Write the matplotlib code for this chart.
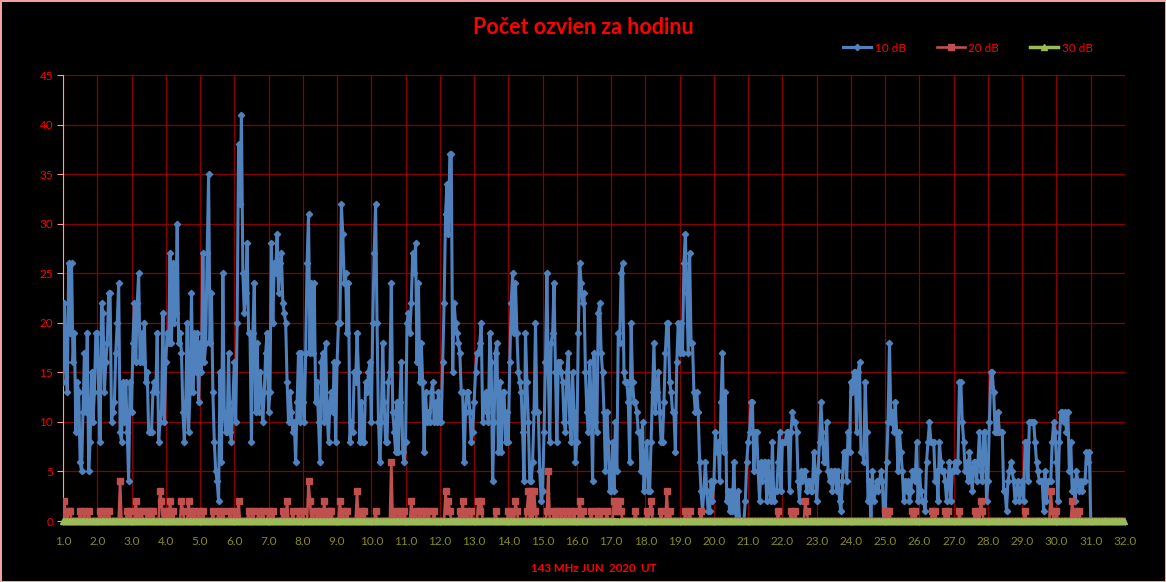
import matplotlib
matplotlib.use('Agg')
import matplotlib.pyplot as plt
import numpy as np

# hourly echo counts, one row of 24 hours per day of June 2020
db10 = [
    [14,22,16,13,26,19,26,16,19,9,14,13,6,5,11,17,11,19,5,8,15,10,13,19],
    [19,13,8,22,21,13,16,18,23,23,10,11,12,17,20,24,9,8,14,10,14,9,4,14],
    [11,18,22,16,22,25,16,19,16,20,14,15,9,9,9,13,14,13,19,8,10,11,21,10],
    [16,19,18,27,18,26,20,21,30,18,19,17,11,8,12,20,9,13,23,13,19,15,19,12],
    [18,15,27,16,18,27,35,18,23,13,8,5,4,2,15,6,25,11,9,9,17,9,8,12],
    [16,10,20,38,32,41,25,21,23,28,19,19,8,19,24,11,18,11,15,13,10,13,17,19],
    [11,13,28,20,26,25,29,23,26,27,22,21,20,14,10,13,11,9,10,6,12,17,10,17],
    [12,10,17,26,31,17,24,17,24,12,14,10,6,16,17,10,18,11,8,12,13,11,16,8],
    [16,20,20,32,29,24,25,19,24,8,10,9,15,14,19,15,8,12,8,8,14,13,15,16],
    [10,20,27,32,20,10,6,10,18,12,8,8,14,15,24,11,9,7,12,7,12,16,7,6],
    [8,20,21,19,22,27,25,28,16,24,14,18,14,7,13,10,11,10,13,14,10,12,10,13],
    [10,10,16,22,31,34,29,37,37,15,22,20,19,18,17,13,13,6,11,13,13,11,8,9],
    [12,15,17,17,18,20,10,12,13,11,10,19,16,4,10,17,18,7,14,7,13,13,8,11],
    [8,16,22,25,19,24,19,15,14,13,9,4,19,14,10,4,4,6,11,20,11,11,5,2],
    [3,9,16,25,15,8,18,19,24,15,8,16,16,15,14,10,9,15,17,10,8,15,11,6],
    [8,19,26,24,22,23,15,11,9,16,12,4,17,10,9,21,22,17,15,11,5,11,8,3],
    [3,8,3,10,5,19,18,25,26,15,14,14,12,6,20,14,12,12,11,9,9,5,10,3],
    [6,8,3,3,8,13,18,11,13,15,11,8,8,12,17,20,20,14,13,11,11,7,16,20],
    [17,20,17,26,29,23,17,27,18,18,13,11,13,11,6,3,1,3,6,3,1,1,4,2],
    [4,9,7,8,4,12,17,7,13,2,3,1,3,1,6,1,0,3,0,0,0,0,2,6],
    [8,9,12,12,5,9,9,5,2,6,4,6,6,2,6,3,2,8,2,3,3,6,9,3],
    [8,8,8,9,9,3,9,11,10,10,9,4,2,5,4,5,5,3,4,4,3,3,7,5],
    [2,5,8,12,9,6,6,10,5,4,5,3,5,5,3,5,2,1,4,7,7,4,9,7],
    [14,13,15,15,9,15,16,7,7,6,14,9,2,4,0,5,2,3,4,3,4,5,4,0],
    [0,6,10,18,10,11,9,12,9,5,9,7,5,2,4,3,4,2,3,5,5,4,8,2],
    [5,3,2,2,1,6,8,10,8,8,8,4,5,2,8,6,5,5,4,2,4,6,2,5],
    [5,6,5,6,14,14,10,8,5,6,4,7,5,3,6,6,4,6,9,5,4,9,9,2],
    [4,10,15,15,13,9,9,11,9,9,9,3,3,1,4,5,6,5,4,2,3,4,2,3],
    [4,2,8,8,4,10,10,10,10,8,6,5,4,4,4,1,5,2,4,4,4,8,10,9],
    [6,2,8,11,11,10,11,9,11,5,8,3,4,2,5,4,3,4,3,4,4,7,6,7],
    [0,0,0,0,0,0,0,0,0,0,0,0,0,0,0,0,0,0,0,0,0,0,0,0],
]

db20 = [
    [0,2,0,0,1,1,0,0,0,0,0,0,1,0,0,1,0,0,1,0,0,0,0,0],
    [0,0,1,0,0,1,0,0,1,0,0,0,0,0,0,0,4,0,0,0,0,1,0,1],
    [0,0,0,2,0,1,0,1,0,0,0,1,0,1,0,1,0,0,0,0,3,2,0,1],
    [0,1,0,2,0,1,0,0,0,0,0,2,1,0,0,0,2,0,1,0,1,0,0,1],
    [0,0,1,0,0,0,0,0,0,1,0,0,0,1,0,0,1,0,0,0,0,1,0,0],
    [1,0,0,2,0,0,0,0,0,0,1,0,0,1,0,0,0,1,0,0,1,0,0,0],
    [1,0,0,1,0,0,0,0,0,0,1,0,0,2,0,0,0,1,0,0,0,1,0,0],
    [1,0,0,0,4,2,0,1,0,0,1,0,1,0,0,2,0,0,1,0,1,0,0,0],
    [0,0,2,0,1,0,0,1,0,0,0,0,0,0,3,0,0,1,0,1,0,0,0,0],
    [0,0,0,1,0,0,0,0,0,0,0,0,0,0,6,0,0,1,0,0,1,0,0,1],
    [0,0,0,0,2,0,0,1,0,0,1,0,0,1,0,0,1,0,0,0,1,0,0,0],
    [0,0,0,0,3,1,2,1,0,0,0,0,0,0,1,0,2,0,0,1,0,0,1,0],
    [0,0,0,2,1,2,0,0,0,0,0,0,0,0,0,1,0,0,0,0,0,0,0,0],
    [1,0,1,0,0,2,1,0,0,0,0,0,0,1,3,0,3,0,3,1,0,0,0,0],
    [0,0,0,1,5,0,0,0,1,0,1,0,0,1,0,0,1,0,0,1,0,0,1,0],
    [0,0,2,0,1,0,0,0,0,0,1,0,0,0,1,0,0,1,0,0,0,1,0,0],
    [0,0,2,1,2,1,2,1,0,0,0,0,0,0,0,0,0,1,0,0,0,0,0,0],
    [0,1,0,1,2,0,0,0,0,0,0,1,0,0,0,3,0,1,0,0,0,0,0,0],
    [0,0,0,0,1,0,0,1,0,0,0,0,0,0,0,1,0,0,0,0,0,0,0,0],
    [0,0,0,0,0,0,0,0,0,0,0,0,0,0,0,0,0,0,0,0,0,0,0,0],
    [0,0,0,0,0,0,0,0,0,0,0,0,0,0,0,0,0,0,0,0,0,1,0,0],
    [0,0,0,0,0,0,1,0,0,1,0,0,0,0,0,0,2,1,0,0,0,0,0,0],
    [0,0,0,0,0,0,0,0,0,0,0,0,0,0,0,0,0,0,0,0,0,0,0,0],
    [0,0,0,0,0,0,0,0,0,0,0,0,0,0,0,0,0,0,0,0,0,0,0,0],
    [1,1,0,1,0,0,0,0,0,0,0,0,0,0,0,0,0,0,0,1,0,1,0,0],
    [0,0,0,0,0,0,0,0,0,1,0,1,0,0,0,0,0,0,1,0,1,0,0,0],
    [0,0,0,0,1,0,0,0,0,0,0,0,0,0,0,1,0,1,0,2,1,0,0,0],
    [0,0,0,0,0,0,0,0,0,0,0,0,0,0,0,0,0,0,0,0,0,0,0,0],
    [0,0,1,0,0,0,0,0,0,0,0,0,0,0,0,0,0,0,0,0,3,1,0,0],
    [1,0,0,0,0,0,0,0,0,0,0,2,0,0,1,0,1,0,0,0,0,0,0,0],
    [0,0,0,0,0,0,0,0,0,0,0,0,0,0,0,0,0,0,0,0,0,0,0,0],
]

db30 = [[0] * 24 for _ in range(31)]

x_ticks = np.arange(1, 33)
y_ticks = np.arange(0, 50, 5)

plt.rcParams['font.family'] = ['Lato', 'DejaVu Sans']

y10 = np.array(db10).ravel()
y20 = np.array(db20).ravel()
y30 = np.array(db30).ravel()
x = 1 + np.arange(len(y10)) / 24.0

fig = plt.figure(figsize=(11.66, 5.82), dpi=100)
fig.patch.set_facecolor('black')
fig.patch.set_edgecolor('#f2a0a0')
fig.patch.set_linewidth(2)
ax = fig.add_axes([63/1166, 1-521/582, (1125-63)/1166, (521-75)/582])
ax.set_facecolor('black')

l1, = ax.plot(x, y10, color='#4f81bd', lw=2.2, marker='D', ms=3.2, mfc='#4f81bd', mec='#4f81bd', label='10 dB', zorder=3)
l2, = ax.plot(x, y20, color='#c0504d', lw=1.9, marker='s', ms=5, mfc='#c0504d', mec='#c0504d', label='20 dB', zorder=4)
l3, = ax.plot(x, y30, color='#9bbb59', lw=2.5, marker='^', ms=4.5, mfc='#9bbb59', mec='#9bbb59', label='30 dB', zorder=5, clip_on=False)

ax.set_xlim(1, 32)
ax.set_ylim(0, 45)
ax.set_xticks(x_ticks)
ax.set_xticklabels(['%.1f' % t for t in x_ticks])
ax.set_yticks(y_ticks)
ax.grid(True, color='#8a0000', lw=0.9, zorder=0)
ax.set_axisbelow(True)

for s in ['top', 'right']:
    ax.spines[s].set_visible(False)
ax.spines['left'].set_color('#f2a0a0')
ax.spines['bottom'].set_color('#f2a0a0')
ax.tick_params(axis='y', colors='#f2a0a0', labelcolor='#ff0000', labelsize=8.5, length=4, pad=3)
ax.tick_params(axis='x', colors='#e0a070', labelcolor='#8c8c10', labelsize=8.5, length=3, pad=8)

fig.text(0.5, 1-27/582, 'Počet ozvien za hodinu', color='#ff0000', fontsize=15.5, fontweight='bold', ha='center', va='center')
fig.text(594/1166, 1-568/582, '143 MHz JUN  2020  UT', color='#ff0000', fontsize=8.3, fontweight='bold', ha='center', va='center')

leg = fig.legend(handles=[l1, l2, l3], loc='center', bbox_to_anchor=(968/1166, 1-48/582), ncol=3, frameon=False,
                 fontsize=8.5, labelcolor='#ff0000', numpoints=1, handlelength=2.4, columnspacing=2.6, handletextpad=0.3)

plt.savefig('out.png', dpi=100, facecolor=fig.get_facecolor(), edgecolor=fig.get_edgecolor())
